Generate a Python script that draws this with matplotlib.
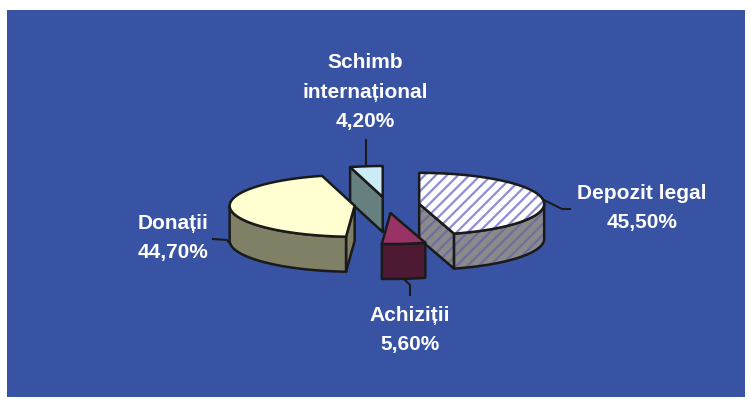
import numpy as np
import matplotlib
matplotlib.use("Agg")
import matplotlib.pyplot as plt
from matplotlib.patches import Polygon, Rectangle

plt.rcParams['font.family'] = ['Liberation Sans', 'DejaVu Sans']
plt.rcParams['hatch.linewidth'] = 1.6

# date
names = ['Depozit legal', 'Achiziții', 'Donații', 'Schimb\ninternațional']
values = [45.5, 5.6, 44.7, 4.2]
pct_labels = ['45,50%', '5,60%', '44,70%', '4,20%']

top_colors = ['white', '#993366', '#FFFFD2', '#CCECF5']
side_colors = ['#8A8A8A', '#4D1933', '#808066', '#668080']
hatches = ['///', None, None, None]
hatch_top = '#8C8FD2'
hatch_side = '#6E6E9E'

# geometrie (pixeli)
cx, cy = 387, 205
rx, ry = 125, 31
depth = 35
explode = 0.26

# pozitii etichete si linii de legatura
label_pos = [(642, 208), (410, 330), (173, 238), (365, 92)]
leader_pts = [[(562, 209), (570, 209)],
              [(410, 285), (410, 295)],
              [(227, 240), (213, 239)],
              [(None, 140)]]

fig = plt.figure(figsize=(7.51, 4.05), dpi=100)
ax = fig.add_axes([0, 0, 1, 1])
ax.set_xlim(0, 751)
ax.set_ylim(405, 0)
ax.axis('off')
ax.add_patch(Rectangle((7, 10), 738, 387, facecolor='#3953A4', edgecolor='none', zorder=0))

total = sum(values)
starts = np.cumsum([0] + values[:-1]) / total * 360
ends = np.cumsum(values) / total * 360


def pt(th, ox, oy, dz=0, r=1.0):
    t = np.radians(th)
    return (cx + ox + r * rx * np.sin(t), cy + oy - r * ry * np.cos(t) + dz)


def face(poly, fc, hatch, hc, z):
    if hatch:
        ax.add_patch(Polygon(poly, closed=True, facecolor=fc, edgecolor=hc,
                             hatch=hatch, lw=0, zorder=z))
        ax.add_patch(Polygon(poly, closed=True, facecolor='none', edgecolor='#1a1a1a',
                             lw=1.8, joinstyle='round', zorder=z + 0.01))
    else:
        ax.add_patch(Polygon(poly, closed=True, facecolor=fc, edgecolor='#1a1a1a',
                             lw=1.8, joinstyle='round', zorder=z))


# ordinea desenarii: din spate in fata
mids = (starts + ends) / 2
order = np.argsort(-np.cos(np.radians(mids)))
for k, i in enumerate(order):
    a, b, m = starts[i], ends[i], mids[i]
    ox = explode * rx * np.sin(np.radians(m))
    oy = -explode * ry * np.cos(np.radians(m))
    z = 1 + k
    c_top = (cx + ox, cy + oy)
    c_bot = (cx + ox, cy + oy + depth)
    # fete taiate vizibile
    for th, vis in ((a, np.sin(np.radians(a)) < -1e-6), (b, np.sin(np.radians(b)) > 1e-6)):
        if vis:
            poly = [c_top, pt(th, ox, oy), pt(th, ox, oy, depth), c_bot]
            face(poly, side_colors[i], hatches[i], hatch_side, z)
    # perete exterior
    lo, hi = max(a, 90), min(b, 270)
    if hi > lo:
        ts = np.linspace(lo, hi, 60)
        poly = [pt(t, ox, oy) for t in ts] + [pt(t, ox, oy, depth) for t in ts[::-1]]
        face(poly, side_colors[i], hatches[i], hatch_side, z + 0.1)
    # fata de sus
    ts = np.linspace(a, b, 120)
    poly = [c_top] + [pt(t, ox, oy) for t in ts]
    face(poly, top_colors[i], hatches[i], hatch_top, z + 0.2)

    # linie de legatura
    if np.cos(np.radians(m)) > 0:
        anchor = pt(m, ox, oy)
    else:
        anchor = pt(m, ox, oy, depth)
    xs = [anchor[0]] + [anchor[0] if p[0] is None else p[0] for p in leader_pts[i]]
    ys = [anchor[1]] + [p[1] for p in leader_pts[i]]
    ax.plot(xs, ys, color='#1a1a1a', lw=1.5, zorder=20)

    ax.text(label_pos[i][0], label_pos[i][1], names[i] + '\n' + pct_labels[i],
            ha='center', va='center', color='white', fontsize=15,
            fontweight='bold', linespacing=1.7, zorder=21)

fig.savefig('out.png', dpi=100, facecolor='white')
